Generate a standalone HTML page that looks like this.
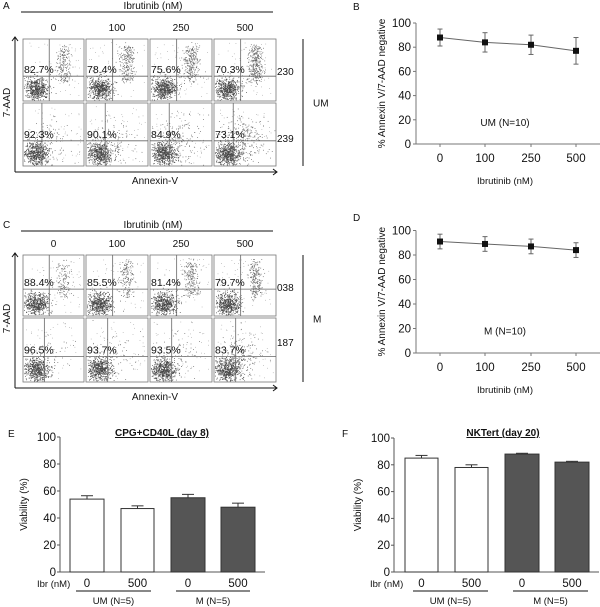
<!DOCTYPE html>
<html><head><meta charset="utf-8">
<style>
html,body{margin:0;padding:0;background:#fff;}
svg{display:block;font-family:"Liberation Sans",Arial,sans-serif;}
</style></head>
<body>
<svg id="fig" width="600" height="607" viewBox="0 0 600 607" xmlns="http://www.w3.org/2000/svg"></svg>
<script>
// ---------- data ----------
const flowConcs = ["0","100","250","500"];
const flowA_top = ["82.7%","78.4%","75.6%","70.3%"];
const flowA_bot = ["92.3%","90.1%","84.9%","73.1%"];
const flowC_top = ["88.4%","85.5%","81.4%","79.7%"];
const flowC_bot = ["96.5%","93.7%","93.5%","83.7%"];
const lineCats = ["0","100","250","500"];
const umMeans = [88,84,82,77];
const umErr = [7,8,8,11];
const mMeans = [91,89,87,84];
const mErr = [6,6,6,6];
const yTicks = [0,20,40,60,80,100];
const barCats = ["0","500","0","500"];
const eMeans = [54,47,55,48];
const eErr = [2.5,2,2.5,3];
const fMeans = [85,78,88,82];
const fErr = [2,2,0.6,0.6];

const NS="http://www.w3.org/2000/svg";
const svg=document.getElementById('fig');
function el(tag,attrs,parent){const e=document.createElementNS(NS,tag);for(const k in attrs)e.setAttribute(k,attrs[k]);(parent||svg).appendChild(e);return e;}
function txt(s,x,y,size,anchor,parent,extra){const t=el('text',Object.assign({x:x,y:y,'font-size':size,'text-anchor':anchor||'middle',fill:'#111'},extra||{}),parent);t.textContent=s;return t;}

// seeded texture generator for cytometry dot clouds
let seed=12345;
function rnd(){seed=(seed*1103515245+12345)%2147483648;return seed/2147483648;}
function gauss(){let u=rnd()||1e-6,v=rnd();return Math.sqrt(-2*Math.log(u))*Math.cos(2*Math.PI*v);}

function flowBlock(oy,topLbl,botLbl,ids,groupName,letter,rows){
  const g=el('g',{});
  
  
  const lt=txt(letter,3,oy+9,10,'start',g);
  
  
  const h=txt("Ibrutinib (nM)",153,oy+9,10,'middle',g);
  
  
  el('line',{x1:21,y1:oy+12,x2:273,y2:oy+12,stroke:'#111','stroke-width':1},g);
  const colX=[[23,84],[86,148],[150,212],[214,276]];
  colX.forEach((c,i)=>{const t=txt(flowConcs[i],(c[0]+c[1])/2,rows[0].y0-8,10,'middle',g);
    
    });
  rows.forEach((r,ri)=>{
    const lbls= ri===0?topLbl:botLbl;
    colX.forEach((c,i)=>{
      const x0=c[0],x1=c[1],y0=r.y0,y1=r.y1,w=x1-x0,hh=y1-y0;
      const pg=el('g',{},g);
      
      
      el('rect',{x:x0,y:y0,width:w,height:hh,fill:'#fff',stroke:'#777','stroke-width':0.8},pg);
      const live=parseFloat(lbls[i])/100;
      for(let k=0;k<550;k++){const px=x0+w*(0.22+0.1*gauss()),py=y0+hh*(0.8+0.09*gauss());
        if(px>x0+1&&px<x1-1&&py>y0+1&&py<y1-1)el('rect',{x:px,y:py,width:0.8,height:0.8,fill:'#444'},pg);}
      for(let k=0;k<60;k++){const px=x0+w*(0.05+0.9*rnd()),py=y0+hh*(0.05+0.9*rnd());
        el('rect',{x:px,y:py,width:0.7,height:0.7,fill:'#999'},pg);}
      const nd=Math.round((1-live)*1100);
      for(let k=0;k<nd;k++){let px,py;
        if(r.top){const t=rnd();px=x0+w*(0.66+0.06*gauss());py=y0+hh*(0.12+0.55*t+0.04*gauss());}
        else{px=x0+w*(0.45+0.18*gauss());py=y0+hh*(0.6+0.2*gauss());}
        if(px>x0+1&&px<x1-1&&py>y0+1&&py<y1-1)el('rect',{x:px,y:py,width:0.8,height:0.8,fill:'#666'},pg);}
      const vx=x0+w*r.vq,hy=y0+hh*r.hq;
      el('line',{x1:vx,y1:y0,x2:vx,y2:y1,stroke:'#666','stroke-width':0.8},pg);
      el('line',{x1:x0,y1:hy,x2:x1,y2:hy,stroke:'#666','stroke-width':0.8},pg);
      const pt=txt(lbls[i],x0+1,hy-3,10.5,'start',pg);
      
      
    });
    const idt=txt(ids[ri],277,r.idy,10,'start',g);
    
    
  });
  const ya=rows[0].y0-2, xa=rows[1].y1+6;
  el('line',{x1:15,y1:xa,x2:15,y2:ya,stroke:'#111','stroke-width':1},g);
  el('path',{d:`M12,${ya+4} L15,${ya} L18,${ya+4}`,fill:'none',stroke:'#111'},g);
  el('line',{x1:15,y1:xa,x2:277,y2:xa,stroke:'#111','stroke-width':1},g);
  el('path',{d:`M273,${xa-3} L277,${xa} L273,${xa+3}`,fill:'none',stroke:'#111'},g);
  const yl=txt("7-AAD",0,0,10,'middle',g,{transform:`translate(10,${(rows[0].y0+rows[1].y1)/2}) rotate(-90)`});
  
  
  const xl=txt("Annexin-V",155,xa+12,10,'middle',g);
  
  
  el('line',{x1:303,y1:rows[0].y0,x2:303,y2:rows[1].y1,stroke:'#111','stroke-width':1},g);
  const gn=txt(groupName,313,(rows[0].y0+rows[1].y1)/2+4,10,'start',g);
  
  
}
flowBlock(0,flowA_top,flowA_bot,["230","239"],"UM","A",
  [{y0:39,y1:101,vq:0.43,hq:0.6,top:true,idy:75},{y0:103,y1:166,vq:0.31,hq:0.6,top:false,idy:142}]);
flowBlock(219,flowC_top,flowC_bot,["038","187"],"M","C",
  [{y0:255,y1:316,vq:0.43,hq:0.56,top:true,idy:291},{y0:318,y1:382,vq:0.35,hq:0.6,top:false,idy:346}]);

// ---------- line charts ----------
function lineChart(letter,means,errs,y0px,y100px,label,letterY){
  const g=el('g',{});
  
  
  const ax=416, xs=[440,485,531,576];
  const yS=v=>y0px+(y100px-y0px)*v/100;
  const lt=txt(letter,353,letterY,10,'start',g);
  
  
  el('line',{x1:ax,y1:yS(100),x2:ax,y2:y0px,stroke:'#777'},g);
  el('line',{x1:ax,y1:y0px,x2:600,y2:y0px,stroke:'#777'},g);
  yTicks.forEach(t=>{el('line',{x1:ax-3,y1:yS(t),x2:ax,y2:yS(t),stroke:'#777'},g);
    const tl=txt(String(t),ax-5,yS(t)+4,11.5,'end',g);
    
    });
  lineCats.forEach((c,i)=>{el('line',{x1:xs[i],y1:y0px,x2:xs[i],y2:y0px+3,stroke:'#777'},g);
    const tl=txt(c,xs[i],y0px+18,11.5,'middle',g);
    
    });
  const pts=means.map((m,i)=>xs[i]+','+yS(m)).join(' ');
  const pl=el('polyline',{points:pts,fill:'none',stroke:'#666','stroke-width':1},g);
  
  
  means.forEach((m,i)=>{
    const hi=yS(m+errs[i]),lo=yS(m-errs[i]);
    el('line',{x1:xs[i],y1:hi,x2:xs[i],y2:lo,stroke:'#666'},g);
    el('line',{x1:xs[i]-2.5,y1:hi,x2:xs[i]+2.5,y2:hi,stroke:'#666'},g);
    el('line',{x1:xs[i]-2.5,y1:lo,x2:xs[i]+2.5,y2:lo,stroke:'#666'},g);
    const p=el('rect',{x:xs[i]-3,y:yS(m)-3,width:6,height:6,fill:'#111'},g);
    
    
  });
  const gl=txt(label,505,yS(15),10,'middle',g);
  
  
  const xt=txt("Ibrutinib (nM)",505,y0px+40,9.5,'middle',g);
  
  
  const yt=txt("% Annexin V/7-AAD negative",0,0,10,'middle',g,{transform:`translate(385,${(y0px+yS(100))/2}) rotate(-90)`});
  
  
}
lineChart("B",umMeans,umErr,144,23,"UM (N=10)",10);
lineChart("D",mMeans,mErr,353,230.5,"M (N=10)",221);

// ---------- bar charts ----------
function barChart(letter,means,errs,ax,bars,y0px,y100px,title,lines,cx,ibrX){
  const g=el('g',{});
  
  
  const yS=v=>y0px+(y100px-y0px)*v/100;
  const lt=txt(letter,ax-52,437,10,'start',g);
  
  
  const tt=txt(title,cx,436,10,'middle',g,{'font-weight':'bold','text-decoration':'underline'});
  
  
  el('line',{x1:ax,y1:yS(100),x2:ax,y2:y0px,stroke:'#555'},g);
  el('line',{x1:ax,y1:y0px,x2:bars[3][1]+10,y2:y0px,stroke:'#555'},g);
  yTicks.forEach(t=>{el('line',{x1:ax-3,y1:yS(t),x2:ax,y2:yS(t),stroke:'#555'},g);
    const tl=txt(String(t),ax-4,yS(t)+4,11.5,'end',g);
    
    });
  means.forEach((m,i)=>{
    const b=bars[i],mid=(b[0]+b[1])/2,fill=i<2?'#fff':'#555';
    const hi=yS(m+errs[i]);
    el('line',{x1:mid,y1:hi,x2:mid,y2:yS(m),stroke:'#333'},g);
    el('line',{x1:mid-6,y1:hi,x2:mid+6,y2:hi,stroke:'#333'},g);
    const r=el('rect',{x:b[0],y:yS(m),width:b[1]-b[0],height:y0px-yS(m),fill:fill,stroke:'#333','stroke-width':1},g);
    
    
    const tl=txt(barCats[i],mid,y0px+15,11.5,'middle',g);
    
    
  });
  const ib=txt("Ibr (nM)",ibrX,y0px+15,9.5,'start',g);
  
  
  const gl=["UM (N=5)","M (N=5)"];
  lines.forEach((l,i)=>{el('line',{x1:l[0],y1:591,x2:l[1],y2:591,stroke:'#111'},g);
    const t=txt(gl[i],(l[0]+l[1])/2,604,9.5,'middle',g);
    
    });
  const yt=txt("Viability (%)",0,0,10,'middle',g,{transform:`translate(${ax-33},${(y0px+yS(100))/2}) rotate(-90)`});
  
  
}
barChart("E",eMeans,eErr,60,[[70,104],[121,154],[171,205],[221,255]],572,437,"CPG+CD40L (day 8)",[[76,151],[176,250]],162,37);
barChart("F",fMeans,fErr,394,[[405,438],[455,488],[505,539],[555,589]],572,438,"NKTert  (day 20)",[[413,488],[513,588]],503,370);
</script>
</body></html>
